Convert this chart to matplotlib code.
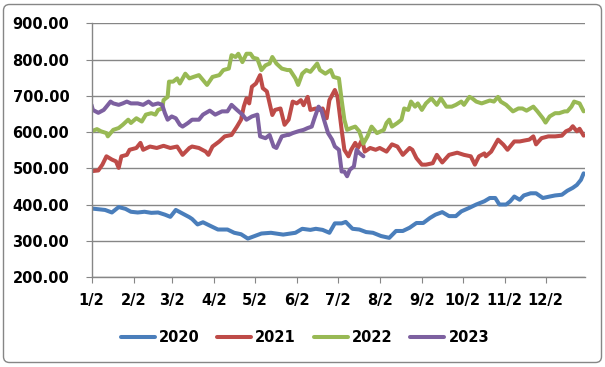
import matplotlib
matplotlib.use("Agg")
import matplotlib.pyplot as plt
from matplotlib.patches import FancyBboxPatch
from matplotlib.transforms import IdentityTransform

# days counted from 1/2 of each year
days_2020 = [0, 5, 10, 15, 20, 25, 29, 34, 39, 44, 49, 54, 58, 62, 67, 72,
             74, 78, 82, 88, 93, 100, 105, 110, 115, 120, 125, 132, 141,
             150, 155, 161, 165, 170, 175, 179, 184, 187, 192, 197, 202, 207, 213,
             219, 224, 229, 234, 239, 244, 249, 253, 258, 263, 268, 272, 278, 283, 289,
             293, 297, 300, 305, 308, 311, 315, 318, 323, 327, 332, 337, 341, 346, 350, 354, 357, 360, 362]
vals_2020 = [389, 387, 385, 378, 393, 388, 380, 378, 380, 377, 378, 372, 366, 385, 375, 365,
             360, 345, 351, 340, 331, 331, 322, 318, 306, 313, 320, 322, 317,
             322, 333, 330, 333, 330, 322, 348, 348, 352, 333, 331, 324, 322, 313,
             308, 327, 327, 336, 349, 349, 363, 372, 379, 368, 368, 381, 391, 400, 409,
             418, 418, 400, 400, 409, 422, 413, 425, 431, 431, 418, 422, 425, 427, 438, 446, 454, 468, 486]

days_2021 = [0, 5, 8, 11, 15, 18, 20, 22, 26, 28, 33, 36, 38, 43, 48, 53, 58, 63, 67, 72,
             74, 79, 84, 86, 89, 94, 98, 103, 107, 110, 112, 114, 116, 118, 121, 124, 126, 129, 133, 135, 139, 142,
             145, 148, 151, 154, 156, 159, 161, 165, 168, 170, 173, 175, 179, 181, 184, 186, 189, 191, 194, 196, 199, 201, 205, 209, 212,
             217, 221, 225, 229, 234, 236, 239, 243, 246, 251, 254, 258, 263, 269, 274, 279, 282, 285, 289,
             290, 294, 299, 303, 306, 311, 315, 319, 322, 325, 327, 331, 336, 341, 346, 349, 352, 354, 357, 359, 362]
vals_2021 = [492, 494, 510, 533, 524, 519, 501, 533, 537, 551, 556, 570, 551, 560, 556, 562, 556, 560, 537, 556,
             560, 556, 546, 537, 560, 574, 588, 592, 615, 634, 670, 693, 679, 725, 734, 757, 721, 712, 647, 661, 665, 620,
             634, 684, 679, 688, 674, 697, 661, 665, 661, 665, 638, 688, 716, 697, 606, 551, 533, 551, 570, 556, 579, 546, 556, 551, 556,
             546, 566, 560, 537, 556, 551, 528, 510, 510, 514, 537, 516, 537, 543, 537, 533, 510, 533, 541,
             533, 546, 579, 565, 551, 574, 574, 577, 579, 588, 566, 583, 588, 588, 590, 602, 607, 616, 602, 609, 590]

days_2022 = [0, 4, 7, 11, 12, 16, 20, 23, 27, 29, 33, 37, 40, 44, 47, 49, 52, 53, 56, 57, 60, 63, 65, 69, 72,
             75, 79, 81, 85, 89, 94, 97, 101, 103, 106, 108, 111, 114, 117, 119, 122, 125, 128, 131, 133, 136, 140, 144,
             146, 150, 152, 155, 158, 161, 166, 168, 172, 176, 178, 182, 184, 186, 188, 191, 194, 197, 200, 203, 206, 210, 215,
             217, 219, 221, 225, 228, 230, 233, 235, 238, 240, 243, 246, 250, 254, 257, 261, 265, 268, 272, 274, 278, 280, 283, 287,
             293, 296, 299, 301, 305, 310, 314, 317, 320, 325, 328, 332, 334, 337, 341, 344, 348, 350, 353, 355, 359, 362]
vals_2022 = [602, 608, 602, 597, 588, 606, 611, 620, 634, 625, 638, 629, 648, 652, 648, 661, 665, 688, 697, 739, 739, 748, 734, 761, 748,
             752, 757, 748, 730, 752, 757, 771, 775, 812, 807, 816, 793, 816, 816, 805, 802, 771, 784, 789, 807, 789, 775, 771,
             771, 748, 730, 761, 771, 766, 789, 771, 761, 771, 752, 748, 688, 634, 606, 611, 615, 602, 568, 588, 615, 597, 606,
             625, 634, 615, 625, 634, 665, 661, 684, 670, 679, 661, 679, 693, 675, 693, 670, 670, 675, 684, 675, 697, 693, 684, 679,
             687, 684, 697, 684, 675, 657, 665, 665, 659, 670, 657, 638, 626, 643, 652, 652, 657, 657, 670, 684, 679, 657]

days_2023 = [0, 1, 5, 9, 11, 14, 16, 20, 23, 26, 29, 34, 38, 42, 45, 49, 52, 54, 56, 59, 62, 65, 67, 71,
             74, 79, 82, 87, 91, 96, 100, 103, 107, 111, 114, 118, 122, 124, 128, 131, 134, 136, 140, 144,
             145, 148, 152, 156, 159, 162, 164, 167, 169, 171, 174, 177, 179, 182, 184, 186, 188, 190, 193, 195, 197, 200]
vals_2023 = [675, 661, 653, 661, 670, 684, 679, 675, 679, 684, 679, 679, 675, 684, 675, 679, 675, 652, 634, 643, 638, 620, 615, 625,
             634, 634, 648, 659, 648, 657, 657, 675, 661, 648, 634, 643, 648, 588, 583, 592, 560, 556, 588, 592,
             592, 597, 602, 606, 611, 615, 638, 670, 661, 634, 597, 579, 560, 551, 491, 491, 478, 496, 505, 551, 542, 533]

# month ticks (1/2, 2/2, ...) as day offsets
tick_days = [0, 31, 59, 90, 120, 151, 181, 212, 243, 273, 304, 334]
tick_labels = ["1/2", "2/2", "3/2", "4/2", "5/2", "6/2", "7/2", "8/2", "9/2", "10/2", "11/2", "12/2"]

series = [
    ("2020", days_2020, vals_2020, "#4A7EBB"),
    ("2021", days_2021, vals_2021, "#BE4B48"),
    ("2022", days_2022, vals_2022, "#98B954"),
    ("2023", days_2023, vals_2023, "#7D60A0"),
]

grid_col = "#868686"
font = {"family": "DejaVu Sans", "weight": "bold", "size": 10.5}

fig = plt.figure(figsize=(6.05, 3.67), dpi=100)
ax = fig.add_axes([91.5 / 605, 1 - 277 / 367, (585 - 91.5) / 605, (277 - 23.3) / 367])

for name, d, v, c in series:
    ax.plot(d, v, color=c, lw=2.9, label=name, solid_joinstyle="round", solid_capstyle="round")

ax.set_xlim(0, 363)
ax.set_ylim(200, 900)
ax.set_yticks(range(200, 901, 100))
ax.set_yticklabels([f"{t:.2f}" for t in range(200, 901, 100)], fontdict=font)
ax.set_xticks(tick_days)
ax.set_xticklabels(tick_labels, fontdict=font)

ax.yaxis.grid(True, color=grid_col, lw=1)
ax.set_axisbelow(True)
for s in ["top", "right"]:
    ax.spines[s].set_visible(False)
for s in ["left", "bottom"]:
    ax.spines[s].set_color(grid_col)
    ax.spines[s].set_linewidth(1)
ax.tick_params(axis="x", length=4.3, color=grid_col, pad=7)
ax.tick_params(axis="y", length=4, color=grid_col, pad=12)

fig.legend(loc="center", bbox_to_anchor=(0.504, 0.08), ncol=4, frameon=False,
           handlelength=2.33, handletextpad=0.27, columnspacing=1.23, prop=font)

# rounded frame around the whole chart
frame = FancyBboxPatch((3.5, 4.5), 598, 358, boxstyle="round,pad=0,rounding_size=6",
                       transform=IdentityTransform(), fill=False, ec=grid_col, lw=1)
fig.patches.append(frame)

fig.savefig("out.png", dpi=100)
